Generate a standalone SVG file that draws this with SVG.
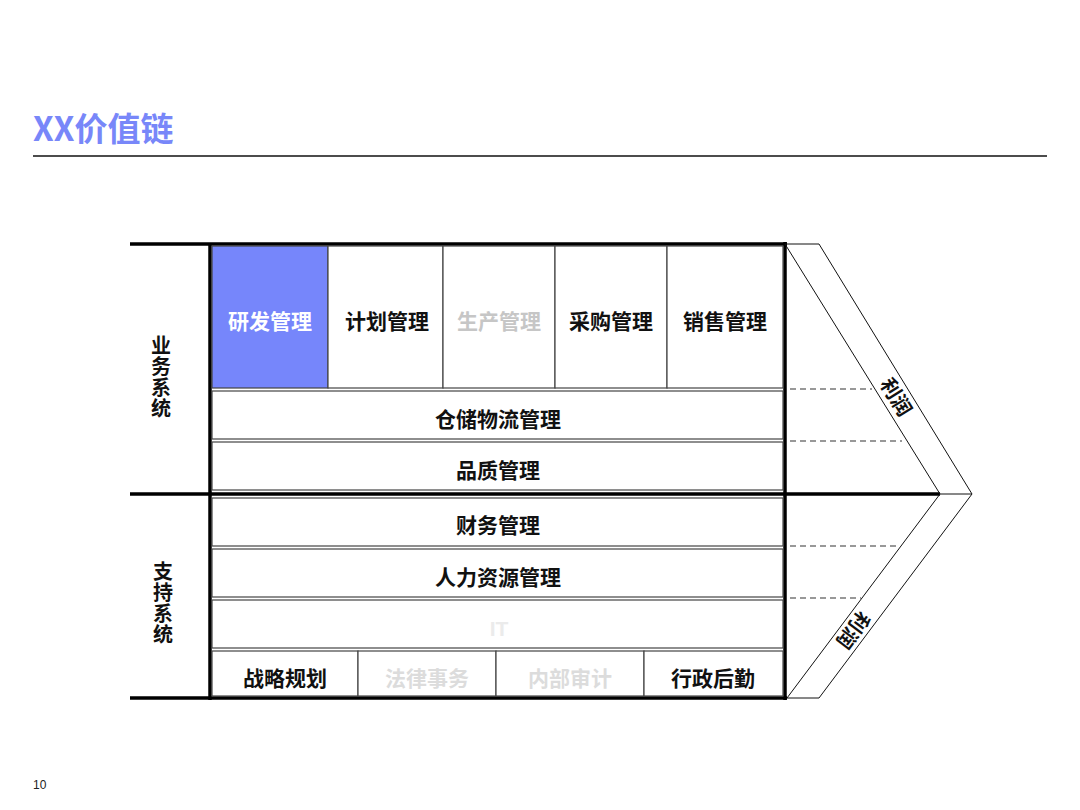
<svg xmlns="http://www.w3.org/2000/svg" width="1080" height="810" viewBox="0 0 1080 810">
<style>
.t{font-family:"Noto Sans CJK SC","Noto Sans",sans-serif;font-weight:700;font-size:21px;text-anchor:middle;fill:#111}
.lbl{font-family:"Noto Sans CJK SC","Noto Sans",sans-serif;font-weight:700;font-size:20px;text-anchor:middle;fill:#111}
.vlbl{font-family:"Noto Sans CJK SC","Noto Sans",sans-serif;font-weight:700;font-size:20px;fill:#111;writing-mode:vertical-rl;letter-spacing:1px}
.cell{fill:#fff;stroke:#444;stroke-width:1.2}
.thick{stroke:#000;stroke-width:3.5;fill:none}
.thin{stroke:#111;stroke-width:1;fill:none}
.dash{stroke:#333;stroke-width:1.2;stroke-dasharray:6 4;fill:none}
</style>
<rect width="1080" height="810" fill="#fff"/>
<g id="title">
<text x="33" y="141" font-family="'Noto Sans CJK SC','Noto Sans',sans-serif" font-weight="700" font-size="33" fill="#7887F9">XX价值链</text>
<line x1="33" y1="156" x2="1047" y2="156" stroke="#111" stroke-width="1.3"/>
</g>
<g id="frame">
<line class="thick" x1="130" y1="244" x2="787" y2="244"/>
<line class="thick" x1="130" y1="494" x2="940" y2="494" stroke-width="4"/>
<line class="thick" x1="130" y1="698" x2="787" y2="698"/>
<line class="thick" x1="210" y1="244" x2="210" y2="700"/>
<line class="thick" x1="785" y1="242" x2="785" y2="700"/>
<polyline class="thin" points="785,244 819,244 972,494 940,494 785,244"/>
<polyline class="thin" points="940,494 787,698 819,698 972,494"/>
</g>
<g id="labels">
<text class="vlbl" x="161" y="335">业务系统</text>
<text class="vlbl" x="163" y="561">支持系统</text>
</g>
<g id="rd"><rect x="212" y="246" width="116" height="142" fill="#7686FB" stroke="#444" stroke-width="1.2"/><text class="t" x="270" y="329" style="fill:#fff">研发管理</text></g>
<g id="plan"><rect class="cell" x="328" y="246" width="115" height="142"/><text class="t" x="387" y="329">计划管理</text></g>
<g id="prod"><rect class="cell" x="443" y="246" width="112" height="142"/><text class="t" x="499" y="329" style="fill:#C6C6C6">生产管理</text></g>
<g id="purchase"><rect class="cell" x="555" y="246" width="112" height="142"/><text class="t" x="611" y="329">采购管理</text></g>
<g id="sales"><rect class="cell" x="667" y="246" width="116" height="142"/><text class="t" x="725" y="329">销售管理</text></g>
<g id="logistics"><rect class="cell" x="212" y="391" width="571" height="48"/><text class="t" x="498" y="427">仓储物流管理</text></g>
<g id="quality"><rect class="cell" x="212" y="442" width="571" height="48"/><text class="t" x="498" y="478">品质管理</text></g>
<g id="finance"><rect class="cell" x="212" y="498" width="571" height="48"/><text class="t" x="498" y="533">财务管理</text></g>
<g id="hr"><rect class="cell" x="212" y="549" width="571" height="48"/><text class="t" x="498" y="585">人力资源管理</text></g>
<g id="it"><rect class="cell" x="212" y="600" width="571" height="48"/><text class="t" x="499" y="636" style="fill:#EBEBEB;font-family:'Liberation Sans','Noto Sans',sans-serif">IT</text></g>
<g id="strategy"><rect class="cell" x="212" y="651" width="146" height="45"/><text class="t" x="285" y="686">战略规划</text></g>
<g id="legal"><rect class="cell" x="358" y="651" width="138" height="45"/><text class="t" x="427" y="686" style="fill:#DCDCDC">法律事务</text></g>
<g id="audit"><rect class="cell" x="496" y="651" width="148" height="45"/><text class="t" x="570" y="686" style="fill:#DCDCDC">内部审计</text></g>
<g id="admin"><rect class="cell" x="644" y="651" width="139" height="45"/><text class="t" x="713" y="686">行政后勤</text></g>
<g id="profit-top"><text class="lbl" transform="translate(896,397) rotate(58.4)" y="7">利润</text></g>
<g id="profit-bottom"><text class="lbl" transform="translate(853,630) rotate(127)" y="7">利润</text></g>
<g id="connectors">
<line class="dash" x1="790" y1="389" x2="872" y2="389"/>
<line class="dash" x1="790" y1="441" x2="902" y2="441"/>
<line class="dash" x1="790" y1="546" x2="900" y2="546"/>
<line class="dash" x1="790" y1="598" x2="861" y2="598"/>
</g>
<text x="33" y="789" font-family="'Liberation Sans',Arial,sans-serif" font-size="12" fill="#222">10</text>
</svg>
